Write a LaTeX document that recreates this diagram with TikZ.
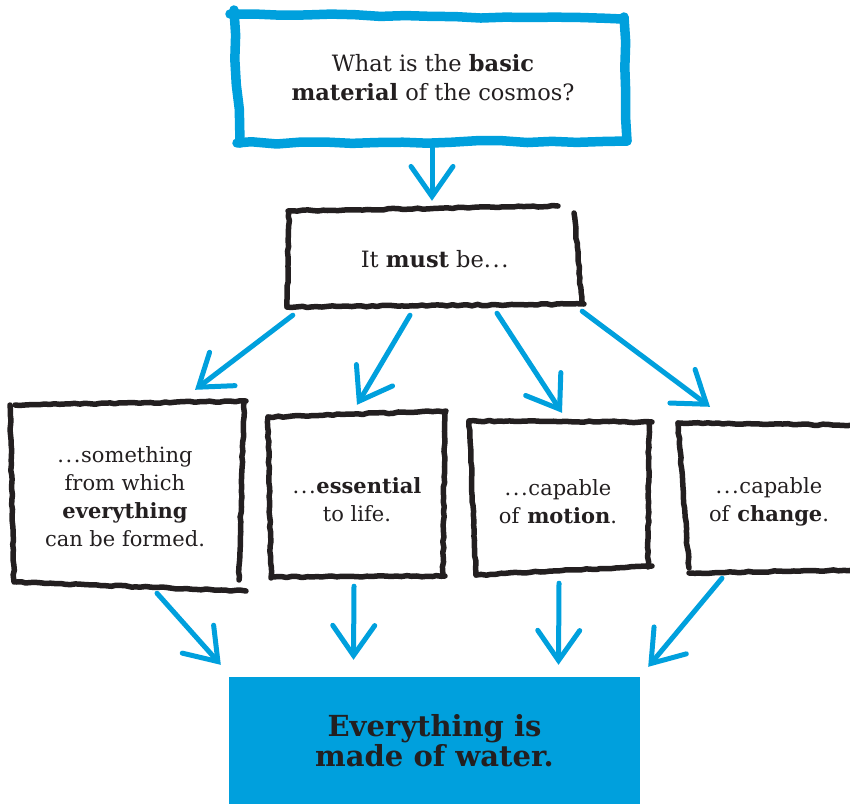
\documentclass[tikz,border=0pt]{standalone}
\usepackage{fontspec}
\setmainfont{DejaVu Serif}
\usetikzlibrary{arrows.meta,calc,decorations.pathmorphing}
\definecolor{wblue}{RGB}{0,160,221}
\definecolor{ink}{RGB}{35,31,32}
\newcommand{\ddd}{.\kern1.6pt.\kern1.6pt.\kern0.6pt}
\begin{document}
\begin{tikzpicture}[x=1pt,y=-1pt,
  box/.style={inner sep=0pt,align=center,text=ink,font=\fontsize{21}{28}\selectfont},
  bluestroke/.style={draw=wblue,line width=9.5pt,line cap=round,line join=round,
    decorate,decoration={random steps,segment length=25pt,amplitude=1.2pt}},
  inkstroke/.style={draw=ink,line width=5.5pt,line cap=round,line join=round,
    decorate,decoration={random steps,segment length=5pt,amplitude=0.7pt}},
  arr/.style={draw=wblue,line width=5pt,line cap=round,
    -{Straight Barb[length=30pt,width=42pt,line cap=round]}}
]
\pgfmathsetseed{7}
\useasboundingbox (0,0) rectangle (850,804);
\fill[white] (0,0) rectangle (850,804);

% nodes
\node[box,minimum width=392pt,minimum height=128pt,font=\fontsize{22.5}{29}\selectfont] (q) at (433,78)
  {What is the \textbf{basic}\\\textbf{material} of the cosmos?};
\node[box,minimum width=296pt,minimum height=98pt,font=\fontsize{22.5}{29}\selectfont] (must) at (435,259)
  {It \textbf{must} be\ddd};
\node[box,minimum width=234pt,minimum height=184pt] (a) at (125,497)
  {\ddd something\\from which\\\textbf{everything}\\can be formed.};
\node[box,minimum width=176pt,minimum height=166pt] (b) at (357,500)
  {\ddd\textbf{essential}\\to life.};
\node[box,minimum width=180pt,minimum height=150pt] (c) at (558,502)
  {\ddd capable\\of \textbf{motion}.};
\node[box,minimum width=170pt,minimum height=150pt] (d) at (769,502)
  {\ddd capable\\of \textbf{change}.};
\node[fill=wblue,inner sep=0pt,minimum width=411pt,minimum height=127pt,align=center,text=ink,
  font=\bfseries\fontsize{29}{30.5}\selectfont] (w) at (434.5,740.5)
  {Everything is\\made of water.};

% hand-drawn borders
\draw[bluestroke] (230,14) -- (622,19);
\draw[bluestroke] (624,17) -- (627,141);
\draw[bluestroke] (627,141) -- (237,143);
\draw[bluestroke] (234,10) .. controls (236,60) .. (240,143);

\draw[inkstroke] (288,211) -- (558,206);
\draw[inkstroke] (574,213) -- (582,302);
\draw[inkstroke] (287,307) -- (584,304);
\draw[inkstroke] (289,211) -- (287,307);

\draw[inkstroke] (15,405) -- (246,401);
\draw[inkstroke] (244,402) -- (239,580);
\draw[inkstroke] (16,582) -- (246,591);
\draw[inkstroke] (10,405) -- (14,582);

\draw[inkstroke] (268,417) -- (446,411);
\draw[inkstroke] (445,412) -- (443,575);
\draw[inkstroke] (272,577) -- (445,576);
\draw[inkstroke] (268,417) -- (271,578);

\draw[inkstroke] (469,421) -- (652,422);
\draw[inkstroke] (649,422) -- (648,567);
\draw[inkstroke] (476,575) -- (652,566);
\draw[inkstroke] (469,421) -- (476,575);

\draw[inkstroke] (678,423) -- (852,425);
\draw[inkstroke] (678,423) -- (689,568);
\draw[inkstroke] (689,573) -- (852,570);

% connector end points
\coordinate (q0) at ($(q.south)+(-1,1)$);
\coordinate (m0) at ($(must.north)+(-3,-9)$);
\coordinate (s1) at ($(must.south west)+(6,7)$);
\coordinate (s2) at ($(must.south)+(-25,7)$);
\coordinate (s3) at ($(must.south)+(62,5)$);
\coordinate (s4) at ($(must.south east)+(-1,3)$);
\coordinate (t1) at ($(a.north)+(70,-15)$);
\coordinate (t2) at ($(b.north)+(0,-12)$);
\coordinate (t3) at ($(c.north)+(4,-14)$);
\coordinate (t4) at ($(d.north)+(-59,-20)$);
\coordinate (u1) at ($(a.south)+(32,4)$);
\coordinate (u2) at ($(b.south)+(-3,3)$);
\coordinate (u3) at ($(c.south)+(1,6)$);
\coordinate (u4) at ($(d.south)+(-47,1)$);
\coordinate (v1) at ($(w.north west)+(-8,-12)$);
\coordinate (v2) at ($(w.north)+(-81,-17)$);
\coordinate (v3) at ($(w.north)+(124,-12)$);
\coordinate (v4) at ($(w.north east)+(8,-10)$);

% connectors
\draw[arr] (q0) -- (m0);
\draw[arr] (s1) -- (t1);
\draw[arr] (s2) -- (t2);
\draw[arr] (s3) -- (t3);
\draw[arr] (s4) -- (t4);
\draw[arr] (u1) -- (v1);
\draw[arr] (u2) -- (v2);
\draw[arr] (u3) -- (v3);
\draw[arr] (u4) -- (v4);
\end{tikzpicture}
\end{document}
